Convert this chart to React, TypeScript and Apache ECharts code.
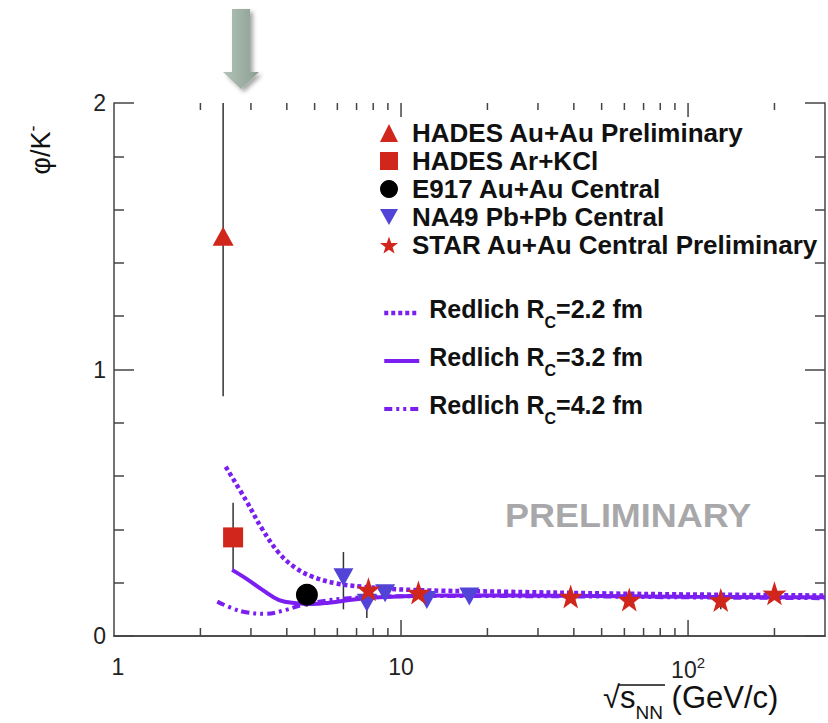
import React, { useEffect, useRef } from "react";
import * as echarts from "echarts";

const FONT = "'Liberation Sans', Arial, Helvetica, sans-serif";

// x: sqrt(s_NN) in GeV, y: phi/K-
const hadesAuAu = [[2.4, 1.5]];
const hadesArKCl = [[2.6, 0.37]];
const e917 = [[4.7, 0.155]];
const na49 = [[6.3, 0.22], [7.6, 0.125], [8.8, 0.16], [12.3, 0.135], [17.3, 0.148]];
const star = [[7.7, 0.175], [11.5, 0.163], [39, 0.148], [62.4, 0.137], [130, 0.135], [200, 0.16]];

// [x, low, high]
const errorBars = [
  [2.4, 0.9, 2.0],
  [2.6, 0.25, 0.5],
  [4.7, 0.11, 0.19],
  [6.3, 0.1, 0.315],
  [7.6, 0.068, 0.17],
  [130, 0.1, 0.17],
];

const redlich22 = [[2.45, 0.635], [2.88, 0.51], [3.29, 0.4], [3.76, 0.311], [4.3, 0.255], [4.91, 0.223], [5.92, 0.198], [7.33, 0.185], [10.9, 0.173], [23.8, 0.166], [50, 0.16], [100, 0.156], [300, 0.152]];
const redlich32 = [[2.58, 0.248], [2.88, 0.216], [3.29, 0.173], [3.76, 0.135], [4.3, 0.123], [4.91, 0.12], [5.61, 0.125], [7.33, 0.141], [9.58, 0.148], [14.3, 0.152], [23.8, 0.152], [50, 0.15], [100, 0.147], [300, 0.145]];
const redlich42 = [[2.29, 0.129], [2.58, 0.104], [2.88, 0.089], [3.38, 0.083], [3.96, 0.098], [4.53, 0.116], [5.18, 0.129], [6.41, 0.141], [8.38, 0.148], [15, 0.15], [50, 0.148], [100, 0.145], [300, 0.142]];

const xMinorTicks = [2, 3, 4, 5, 6, 7, 8, 9, 20, 30, 40, 50, 60, 70, 80, 90, 200];
const xMajorTicks = [10, 100];

const RED = "#d0261c";
const BLUE = "#5244d6";
const PURPLE = "#7a1ff0";
const AXIS = "#444";
const STAR_PATH = "path://M50,0 L61.8,35.1 L97.6,34.5 L69.1,56.7 L79.4,90.5 L50,70 L20.6,90.5 L30.9,56.7 L2.4,34.5 L38.2,35.1 Z";
const DOWN_TRI = "path://M0,0 L20,0 L10,18 Z";

const DOT: number[] = [4, 3];
const DASHDOT: number[] = [8, 4, 3, 4, 3, 4];

export default function App() {
  const ref = useRef<HTMLDivElement>(null);
  useEffect(() => {
    document.body.style.margin = "0";
    const chart = echarts.init(ref.current!, null, { renderer: "svg" });
    const tickData = [
      ...xMinorTicks.map((v) => [v, 0]),
      ...xMajorTicks.map((v) => [v, 1]),
    ];
    const lineStyleAxis = { color: AXIS, width: 1.5 };
    const yAxisBase = {
      type: "value",
      min: 0,
      max: 2,
      interval: 1,
      axisLine: { show: true, lineStyle: lineStyleAxis },
      axisTick: { show: true, inside: true, length: 20, lineStyle: lineStyleAxis },
      minorTick: { show: true, splitNumber: 5, length: 10, lineStyle: lineStyleAxis },
      splitLine: { show: false },
    };
    const option: any = {
      animation: false,
      backgroundColor: "#fff",
      grid: { left: 114, right: 1, top: 103, bottom: 87 },
      xAxis: [
        {
          type: "log",
          logBase: 10,
          min: 1,
          max: 300,
          position: "bottom",
          axisLine: { show: true, lineStyle: lineStyleAxis },
          axisTick: { show: false },
          splitLine: { show: false },
          axisLabel: {
            margin: 19,
            fontSize: 23,
            color: "#222",
            fontFamily: FONT,
            formatter: (v: number) => {
              const e = Math.log10(v);
              const r = Math.round(e);
              if (Math.abs(e - r) > 1e-6) return "";
              if (r === 0) return "{o|1}";
              if (r === 1) return "10";
              return "{b|10}{sup|" + r + "}";
            },
            rich: {
              o: { fontSize: 23, color: "#222", fontFamily: FONT, padding: [0, 0, 0, 8] },
              b: { fontSize: 23, color: "#222", fontFamily: FONT, verticalAlign: "bottom", lineHeight: 26 },
              sup: { fontSize: 15, color: "#222", fontFamily: FONT, verticalAlign: "top", lineHeight: 26, padding: [0, 0, 12, 0] },
            },
          },
        },
        {
          type: "log",
          logBase: 10,
          min: 1,
          max: 300,
          position: "top",
          axisLine: { show: true, lineStyle: lineStyleAxis },
          axisTick: { show: false },
          axisLabel: { show: false },
          splitLine: { show: false },
        },
      ],
      yAxis: [
        {
          ...yAxisBase,
          position: "left",
          axisLabel: { margin: 8, fontSize: 23, color: "#222", fontFamily: FONT },
        },
        {
          ...yAxisBase,
          position: "right",
          axisLabel: { show: false },
        },
      ],
      legend: [
        {
          data: [
            { name: "HADES Au+Au Preliminary", icon: "triangle" },
            { name: "HADES Ar+KCl", icon: "rect" },
            { name: "E917 Au+Au Central", icon: "circle" },
            { name: "NA49 Pb+Pb Central", icon: DOWN_TRI },
            { name: "STAR Au+Au Central Preliminary", icon: STAR_PATH },
          ],
          orient: "vertical",
          left: 375,
          top: 115,
          itemWidth: 18,
          itemHeight: 18,
          itemGap: 2,
          selectedMode: false,
          textStyle: { fontSize: 26, fontWeight: "bold", color: "#111", fontFamily: FONT, padding: [0, 0, 0, 9] },
        },
        {
          data: [
            { name: "Redlich RC=2.2 fm", lineStyle: { width: 4.5, type: DOT } },
            { name: "Redlich RC=3.2 fm", lineStyle: { width: 4 } },
            { name: "Redlich RC=4.2 fm", lineStyle: { width: 4, type: DASHDOT } },
          ],
          orient: "vertical",
          left: 377,
          top: 291,
          itemWidth: 35,
          itemHeight: 14,
          itemGap: 14,
          selectedMode: false,
          itemStyle: { opacity: 0, color: "rgba(0,0,0,0)", borderWidth: 0 },
          formatter: (name: string) => {
            const m = name.match(/^Redlich RC(=.*)$/);
            return m ? "{a|Redlich R}{sub|C}{a|" + m[1] + "}" : name;
          },
          textStyle: {
            fontSize: 25,
            fontWeight: "bold",
            color: "#111",
            fontFamily: FONT,
            padding: [0, 0, 0, 5],
            rich: {
              a: { fontSize: 25, fontWeight: "bold", color: "#111", fontFamily: FONT, lineHeight: 26, verticalAlign: "top" },
              sub: { fontSize: 16, fontWeight: "bold", color: "#111", fontFamily: FONT, lineHeight: 34, verticalAlign: "bottom" },
            },
          },
        },
      ],
      series: [
        {
          name: "ticks",
          type: "custom",
          silent: true,
          z: 1,
          data: tickData,
          encode: { x: 0, y: 1 },
          renderItem: (params: any, api: any) => {
            const v = api.value(0);
            const major = api.value(1) === 1;
            const b = api.coord([v, 0]);
            const t = api.coord([v, 2]);
            const lenB = major ? 16 : 8;
            const lenT = major ? 14 : 7;
            const style = { stroke: AXIS, lineWidth: 1.5 };
            return {
              type: "group",
              children: [
                { type: "line", shape: { x1: b[0], y1: b[1], x2: b[0], y2: b[1] - lenB }, style },
                { type: "line", shape: { x1: t[0], y1: t[1], x2: t[0], y2: t[1] + lenT }, style },
              ],
            };
          },
        },
        {
          name: "errors",
          type: "custom",
          silent: true,
          z: 2,
          data: errorBars,
          encode: { x: 0, y: [1, 2] },
          renderItem: (params: any, api: any) => {
            const x = api.value(0);
            const lo = api.coord([x, api.value(1)]);
            const hi = api.coord([x, api.value(2)]);
            return {
              type: "line",
              shape: { x1: lo[0], y1: lo[1], x2: hi[0], y2: hi[1] },
              style: { stroke: "#333", lineWidth: 1.5 },
            };
          },
        },
        {
          name: "Redlich RC=2.2 fm",
          type: "line",
          data: redlich22,
          smooth: 0.4,
          symbol: "none",
          showSymbol: false,
          z: 3,
          color: PURPLE,
          lineStyle: { color: PURPLE, width: 4.5, type: DOT },
        },
        {
          name: "Redlich RC=3.2 fm",
          type: "line",
          data: redlich32,
          smooth: 0.4,
          symbol: "none",
          showSymbol: false,
          z: 3,
          color: PURPLE,
          lineStyle: { color: PURPLE, width: 4, type: "solid" },
        },
        {
          name: "Redlich RC=4.2 fm",
          type: "line",
          data: redlich42,
          smooth: 0.4,
          symbol: "none",
          showSymbol: false,
          z: 3,
          color: PURPLE,
          lineStyle: { color: PURPLE, width: 4, type: DASHDOT },
        },
        {
          name: "HADES Au+Au Preliminary",
          type: "scatter",
          data: hadesAuAu,
          symbol: "triangle",
          symbolSize: [21, 19],
          z: 5,
          itemStyle: { color: RED, opacity: 1 },
        },
        {
          name: "HADES Ar+KCl",
          type: "scatter",
          data: hadesArKCl,
          symbol: "rect",
          symbolSize: 20,
          z: 5,
          itemStyle: { color: RED, opacity: 1 },
        },
        {
          name: "E917 Au+Au Central",
          type: "scatter",
          data: e917,
          symbol: "circle",
          symbolSize: 22,
          z: 5,
          itemStyle: { color: "#000", opacity: 1 },
        },
        {
          name: "NA49 Pb+Pb Central",
          type: "scatter",
          data: na49,
          symbol: DOWN_TRI,
          symbolSize: [20, 18],
          z: 5,
          itemStyle: { color: BLUE, opacity: 1 },
        },
        {
          name: "STAR Au+Au Central Preliminary",
          type: "scatter",
          data: star,
          symbol: STAR_PATH,
          symbolSize: 24,
          z: 6,
          itemStyle: { color: RED, opacity: 1 },
        },
      ],
      graphic: [
        {
          type: "polygon",
          shape: {
            points: [[232, 9], [250, 9], [250, 72], [259, 72], [241, 89], [223, 72], [232, 72]],
          },
          style: {
            fill: new echarts.graphic.LinearGradient(0, 0, 1, 0, [
              { offset: 0, color: "#b3c3b8" },
              { offset: 1, color: "#8b9e92" },
            ]),
            shadowBlur: 4,
            shadowOffsetX: 3,
            shadowOffsetY: 3,
            shadowColor: "rgba(0,0,0,0.35)",
          },
        },
        {
          type: "text",
          x: 505,
          y: 516,
          scaleX: 1.09,
          style: {
            text: "PRELIMINARY",
            fontSize: 33,
            fontWeight: "bold",
            fontFamily: FONT,
            fill: "#a8a8aa",
            verticalAlign: "middle",
          },
        },
        {
          type: "text",
          x: 39,
          y: 150,
          rotation: Math.PI / 2,
          style: {
            text: "{m|φ/K}{s|-}",
            align: "center",
            verticalAlign: "middle",
            rich: {
              m: { fontSize: 27, fontFamily: FONT, fill: "#111", lineHeight: 30, verticalAlign: "bottom" },
              s: { fontSize: 18, fontFamily: FONT, fill: "#111", lineHeight: 18, verticalAlign: "top" },
            },
          },
        },
        {
          type: "text",
          x: 603,
          y: 702,
          style: {
            text: "{r|√}{s|s}{sub|NN}{n| (GeV/c)}",
            verticalAlign: "middle",
            rich: {
              r: { fontSize: 31, fontFamily: FONT, fill: "#111", lineHeight: 32, verticalAlign: "top" },
              s: { fontSize: 31, fontFamily: FONT, fill: "#111", lineHeight: 32, verticalAlign: "top" },
              sub: { fontSize: 19, fontFamily: FONT, fill: "#111", lineHeight: 40, verticalAlign: "bottom" },
              n: { fontSize: 31, fontFamily: FONT, fill: "#111", lineHeight: 32, verticalAlign: "top" },
            },
          },
        },
        {
          type: "line",
          shape: { x1: 618, y1: 685, x2: 665, y2: 685 },
          style: { stroke: "#111", lineWidth: 1.5 },
        },
      ],
    };
    chart.setOption(option);
    return () => chart.dispose();
  }, []);
  return <div ref={ref} style={{ width: 828, height: 723 }} />;
}
